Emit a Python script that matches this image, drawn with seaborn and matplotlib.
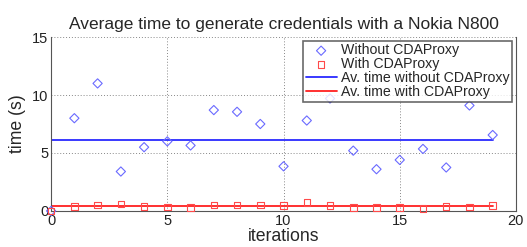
import matplotlib
matplotlib.use("Agg")
import matplotlib.pyplot as plt
import seaborn as sns
import pandas as pd
import numpy as np

iterations = list(range(20))
without_proxy = [0.0, 8.0, 11.0, 3.4, 5.5, 6.0, 5.65, 8.7, 8.55, 7.5,
                 3.85, 7.8, 9.7, 5.2, 3.6, 4.4, 5.35, 3.75, 9.1, 6.55]
with_proxy = [0.0, 0.4, 0.5, 0.6, 0.4, 0.35, 0.3, 0.5, 0.5, 0.5,
              0.45, 0.75, 0.45, 0.3, 0.3, 0.3, 0.2, 0.4, 0.35, 0.45]
avg_without = 6.15
avg_with = 0.45

sns.set_theme(style="white")
plt.rcParams['font.family'] = ['Liberation Sans', 'DejaVu Sans']

df = pd.DataFrame({"it": iterations, "without": without_proxy, "with": with_proxy,
                   "avg_without": [avg_without] * 20, "avg_with": [avg_with] * 20})

fig = plt.figure(figsize=(5.27, 2.47), dpi=100)
ax = fig.add_axes([0.097, 0.146, 0.882, 0.704])

sns.scatterplot(data=df, x="it", y="without", ax=ax, marker="D", s=22,
                facecolor="none", edgecolor="#6a6aff", linewidth=0.8,
                label="Without CDAProxy", zorder=3, clip_on=False)
sns.scatterplot(data=df, x="it", y="with", ax=ax, marker="s", s=22,
                facecolor="none", edgecolor="#ff4a4a", linewidth=0.8,
                label="With CDAProxy", zorder=3, clip_on=False)
sns.lineplot(data=df, x="it", y="avg_without", ax=ax, color="#2a2aff", lw=1.3,
             label="Av. time without CDAProxy", zorder=2)
sns.lineplot(data=df, x="it", y="avg_with", ax=ax, color="#ff2020", lw=1.3,
             label="Av. time with CDAProxy", zorder=2)

ax.set_xlim(0, 20)
ax.set_ylim(0, 15)
ax.set_xticks([0, 5, 10, 15, 20])
ax.set_yticks([0, 5, 10, 15])
ax.grid(True, linestyle=(0, (1, 2)), color="#888888", lw=0.7)
ax.tick_params(direction="in", length=3, labelsize=10.5, colors="#222222", pad=2)
for s in ["left", "bottom", "right"]:
    ax.spines[s].set_color("#555555")
    ax.spines[s].set_linewidth(0.8)
ax.spines["top"].set_visible(False)

ax.set_xlabel("iterations", fontsize=12.7, labelpad=0)
ax.set_ylabel("time (s)", fontsize=12.7, labelpad=4)
ax.set_title("Average time to generate credentials with a Nokia N800", fontsize=12.5, pad=6)

leg = ax.legend(loc="upper right", fontsize=10.2, frameon=True, fancybox=False,
                borderpad=0.15, labelspacing=0.0, handlelength=2.2, handletextpad=0.3,
                borderaxespad=0.3)
leg.get_frame().set_edgecolor("#444444")
leg.get_frame().set_linewidth(1.2)

fig.savefig("out.png", dpi=100)
